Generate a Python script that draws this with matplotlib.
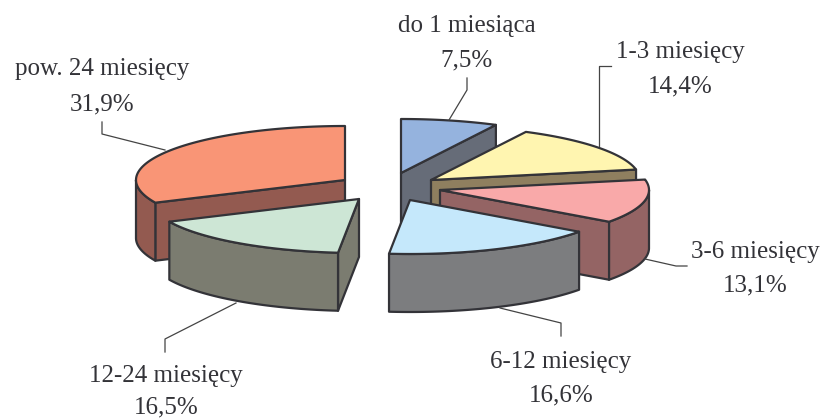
import numpy as np
import matplotlib
matplotlib.use('Agg')
import matplotlib.pyplot as plt

labels = ['do 1 miesiąca', '1-3 miesięcy', '3-6 miesięcy', '6-12 miesięcy', '12-24 miesięcy', 'pow. 24 miesięcy']
shares = [7.5, 14.4, 13.1, 16.6, 16.5, 31.9]

top_colors = ['#95b3de', '#fff5b0', '#f9a9a9', '#c5e8fb', '#cde6d5', '#f99576']
side_colors = ['#666c78', '#8f7f5f', '#946464', '#7c7d7f', '#7b7c70', '#935a50']

# layout in pixels
apex_x = [401, 431, 440, 410, 359, 345]
apex_y = [173, 180, 190, 200, 199, 180]
rx = 209
ry = 54
h = 58
edge = '#333338'

label_x = [467, 680, 755, 561, 166, 102]
label_y = [26, 52, 252, 362, 376, 69]
pct_y = [60, 86, 285, 395, 407, 104]

leader_x = [[467, 467, 449], [611, 599, 599], [645, 676, 687], [500, 561, 561], [236, 165, 165], [102, 102, 165]]
leader_y = [[78, 90, 120], [66, 66, 146], [259, 266, 266], [308, 323, 336], [303, 339, 352], [122, 134, 150]]

plt.rcParams['font.family'] = ['Liberation Serif', 'DejaVu Sans']

fig = plt.figure(figsize=(8.21, 4.19), dpi=100)
ax = fig.add_axes([0, 0, 1, 1])
ax.set_xlim(0, 821)
ax.set_ylim(419, 0)
ax.axis('off')

ends = np.cumsum(shares) / sum(shares) * 360
starts = np.concatenate([[0], ends[:-1]])


def rim(i, a, b):
    t = np.radians(np.linspace(a, b, 80))
    return apex_x[i] + rx * np.sin(t), apex_y[i] - ry * np.cos(t)


def cut_face(i, ang):
    x, y = rim(i, ang, ang)
    px = [apex_x[i], x[0], x[0], apex_x[i]]
    py = [apex_y[i], y[0], y[0] + h, apex_y[i] + h]
    ax.fill(px, py, fc=side_colors[i], ec=edge, lw=1.6, joinstyle='round')


# back slices first, the lowest ones go on top
for i in [0, 1, 2, 5, 4, 3]:
    a, b = starts[i], ends[i]
    # side cut faces turned to the viewer
    if np.cos(np.radians(b + 90)) < 0:
        cut_face(i, b)
    if np.cos(np.radians(a - 90)) < 0:
        cut_face(i, a)
    # outer wall
    lo, hi = max(a, 90), min(b, 270)
    if lo < hi:
        x, y = rim(i, lo, hi)
        ax.fill(np.r_[x, x[::-1]], np.r_[y, y[::-1] + h], fc=side_colors[i], ec=edge, lw=1.6, joinstyle='round')
    # top
    x, y = rim(i, a, b)
    ax.fill(np.r_[apex_x[i], x], np.r_[apex_y[i], y], fc=top_colors[i], ec=edge, lw=1.6, joinstyle='round')

for i in range(6):
    ax.plot(leader_x[i], leader_y[i], color='#444444', lw=0.9)
    ax.text(label_x[i], label_y[i], labels[i], ha='center', va='center', fontsize=18, color='#333338')
    pct = f'{shares[i]:.1f}%'.replace('.', ',')
    ax.text(label_x[i], pct_y[i], pct, ha='center', va='center', fontsize=18, color='#333338')

fig.savefig('out.png', dpi=100)
